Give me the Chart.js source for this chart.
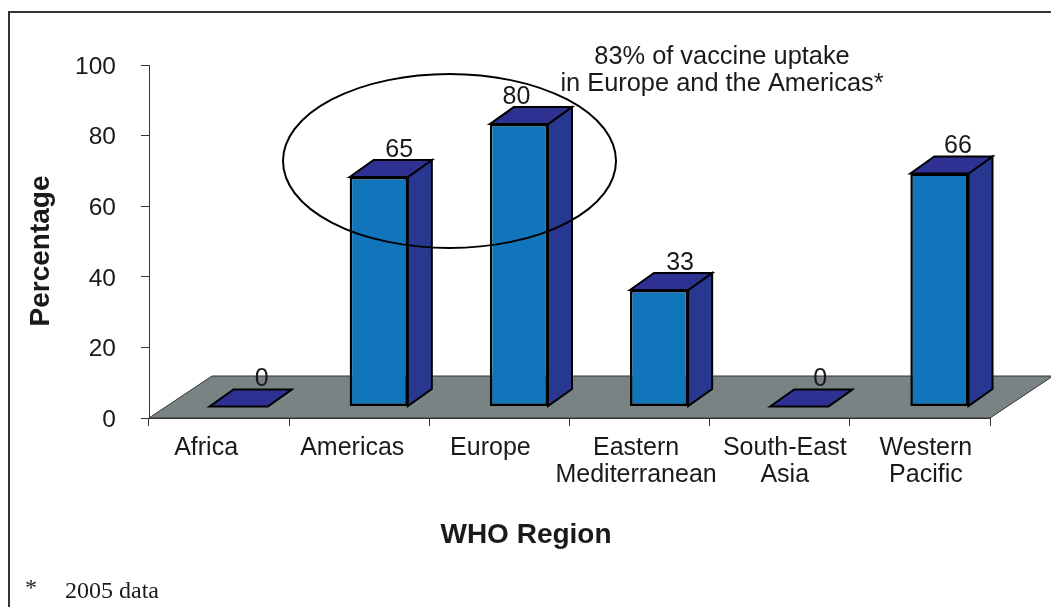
<!DOCTYPE html>
<html>
<head>
<meta charset="utf-8">
<script src="https://cdn.jsdelivr.net/npm/chart.js@4"></script>
<style>
html,body{margin:0;padding:0;background:#fff;overflow:hidden}
canvas{display:block}
</style>
</head>
<body>
<canvas id="c" width="1051" height="607" style="width:1051px;height:607px"></canvas>
<script>
const categories = [
  'Africa', 'Americas', 'Europe',
  ['Eastern', 'Mediterranean'], ['South-East', 'Asia'], ['Western', 'Pacific']
];
const uptake = [0, 65, 80, 33, 0, 66];
const yTicks = [0, 20, 40, 60, 80, 100];
const calloutLines = ['83% of vaccine uptake', 'in Europe and the Americas*'];
const footnoteMark = '*';
const footnoteText = '2005 data';
const xTitle = 'WHO Region';
const yTitle = 'Percentage';

const FONT = '"Liberation Sans", Arial, sans-serif';
const TEXT = '#1a1a1a';
const FRONT = '#1175BC', SIDE = '#283891', TOP = '#2E3192', FLOOR = '#7A8383';
const SHIFT = {x: 19.5, y: -11.5};
const DEPTH = {x: 24, y: -17};
const FLOOR_DEPTH = {x: 63, y: -42};
const LABEL_NUDGE = [-13, -7, -9, -3.5, 5, 6];
const VALUE_NUDGE = [4, 1.5, -21.5, 2, 2, -0.5];

function poly(ctx, pts, fill, stroke, lw) {
  ctx.beginPath();
  pts.forEach((p, i) => i ? ctx.lineTo(p[0], p[1]) : ctx.moveTo(p[0], p[1]));
  ctx.closePath();
  if (fill) { ctx.fillStyle = fill; ctx.fill(); }
  if (stroke) { ctx.strokeStyle = stroke; ctx.lineWidth = lw; ctx.lineJoin = 'miter'; ctx.stroke(); }
}
function text(ctx, s, x, y, font, rot) {
  ctx.save();
  ctx.translate(x, y);
  if (rot) ctx.rotate(rot);
  ctx.font = font;
  ctx.fillStyle = TEXT;
  ctx.textAlign = 'center';
  ctx.textBaseline = 'middle';
  ctx.fillText(s, 0, 0);
  ctx.restore();
}

const scene = {
  id: 'scene',
  beforeDraw(chart) {
    const items = chart.scales.x.getLabelItems();
    if (!items._nudged) {
      items.forEach((it, i) => {
        it.options.translation[0] += LABEL_NUDGE[i];
        it.options.translation[1] += 1;
      });
      items._nudged = true;
    }
    const yItems = chart.scales.y.getLabelItems();
    if (!yItems._nudged) {
      yItems.forEach((it) => { it.options.translation[1] += 2; });
      yItems._nudged = true;
    }
    const ctx = chart.ctx;
    ctx.save();
    ctx.strokeStyle = '#333';
    ctx.lineWidth = 2;
    ctx.beginPath();
    ctx.moveTo(1051, 12); ctx.lineTo(9, 12); ctx.lineTo(9, 607);
    ctx.stroke();
    ctx.restore();
  },
  beforeDatasetsDraw(chart) {
    const ctx = chart.ctx, a = chart.chartArea;
    poly(ctx, [
      [a.left, a.bottom], [a.right, a.bottom],
      [a.right + FLOOR_DEPTH.x, a.bottom + FLOOR_DEPTH.y],
      [a.left + FLOOR_DEPTH.x, a.bottom + FLOOR_DEPTH.y]
    ], FLOOR, '#333', 1);
    ctx.save();
    ctx.translate(SHIFT.x, SHIFT.y);
  },
  afterDatasetsDraw(chart) {
    const ctx = chart.ctx;
    const bars = chart.getDatasetMeta(0).data;
    bars.forEach((b) => {
      const l = b.x - b.width / 2, r = b.x + b.width / 2, t = b.y, base = b.base;
      poly(ctx, [[r, t], [r + DEPTH.x, t + DEPTH.y], [r + DEPTH.x, base + DEPTH.y], [r, base]], SIDE, '#000', 2);
      poly(ctx, [[l, t], [l + DEPTH.x, t + DEPTH.y], [r + DEPTH.x, t + DEPTH.y], [r, t]], TOP, '#000', 2);
    });
    ctx.restore();

    bars.forEach((b, i) => {
      text(ctx, String(uptake[i]), b.x + SHIFT.x + 19 + VALUE_NUDGE[i], b.y + SHIFT.y - 27,
           '25px ' + FONT);
    });

    ctx.save();
    ctx.strokeStyle = '#000';
    ctx.lineWidth = 2;
    ctx.beginPath();
    ctx.ellipse(449.5, 161, 166.5, 87, 0, 0, Math.PI * 2);
    ctx.stroke();
    ctx.restore();

    text(ctx, calloutLines[0], 722, 56.5, '25.4px ' + FONT);
    text(ctx, calloutLines[1], 722, 83.5, '25.4px ' + FONT);
    text(ctx, xTitle, 526, 535, 'bold 28px ' + FONT);
    text(ctx, yTitle, 41, 251, 'bold 28px ' + FONT, -Math.PI / 2);

    const serif = '24px "Liberation Serif", serif';
    text(ctx, footnoteMark, 31, 589, serif);
    text(ctx, footnoteText, 112, 592, serif);
  }
};

new Chart(document.getElementById('c'), {
  type: 'bar',
  plugins: [scene],
  data: {
    labels: categories,
    datasets: [{
      data: uptake,
      backgroundColor: FRONT,
      borderColor: '#000',
      borderWidth: 2.5,
      borderSkipped: false,
      barPercentage: 0.415,
      categoryPercentage: 1
    }]
  },
  options: {
    responsive: false,
    animation: false,
    devicePixelRatio: 1,
    layout: {padding: {top: 65, right: 61, bottom: 0, left: 0}},
    plugins: {legend: {display: false}, tooltip: {enabled: false}, title: {display: false}},
    scales: {
      x: {
        afterFit(s) { s.height = 189; },
        grid: {drawOnChartArea: false, drawTicks: true, tickLength: 8, color: '#333', offset: true},
        border: {color: '#333'},
        ticks: {
          color: TEXT, font: {family: FONT, size: 25, lineHeight: 1.08},
          padding: 8, maxRotation: 0, minRotation: 0, autoSkip: false
        }
      },
      y: {
        min: 0, max: 100,
        afterFit(s) { s.width = 149; },
        afterBuildTicks(s) { s.ticks = yTicks.map(v => ({value: v})); },
        grid: {drawOnChartArea: false, drawTicks: true, tickLength: 8, color: '#333'},
        border: {color: '#333'},
        ticks: {color: TEXT, font: {family: FONT, size: 24.5}, padding: 25}
      }
    }
  }
});
</script>
</body>
</html>
